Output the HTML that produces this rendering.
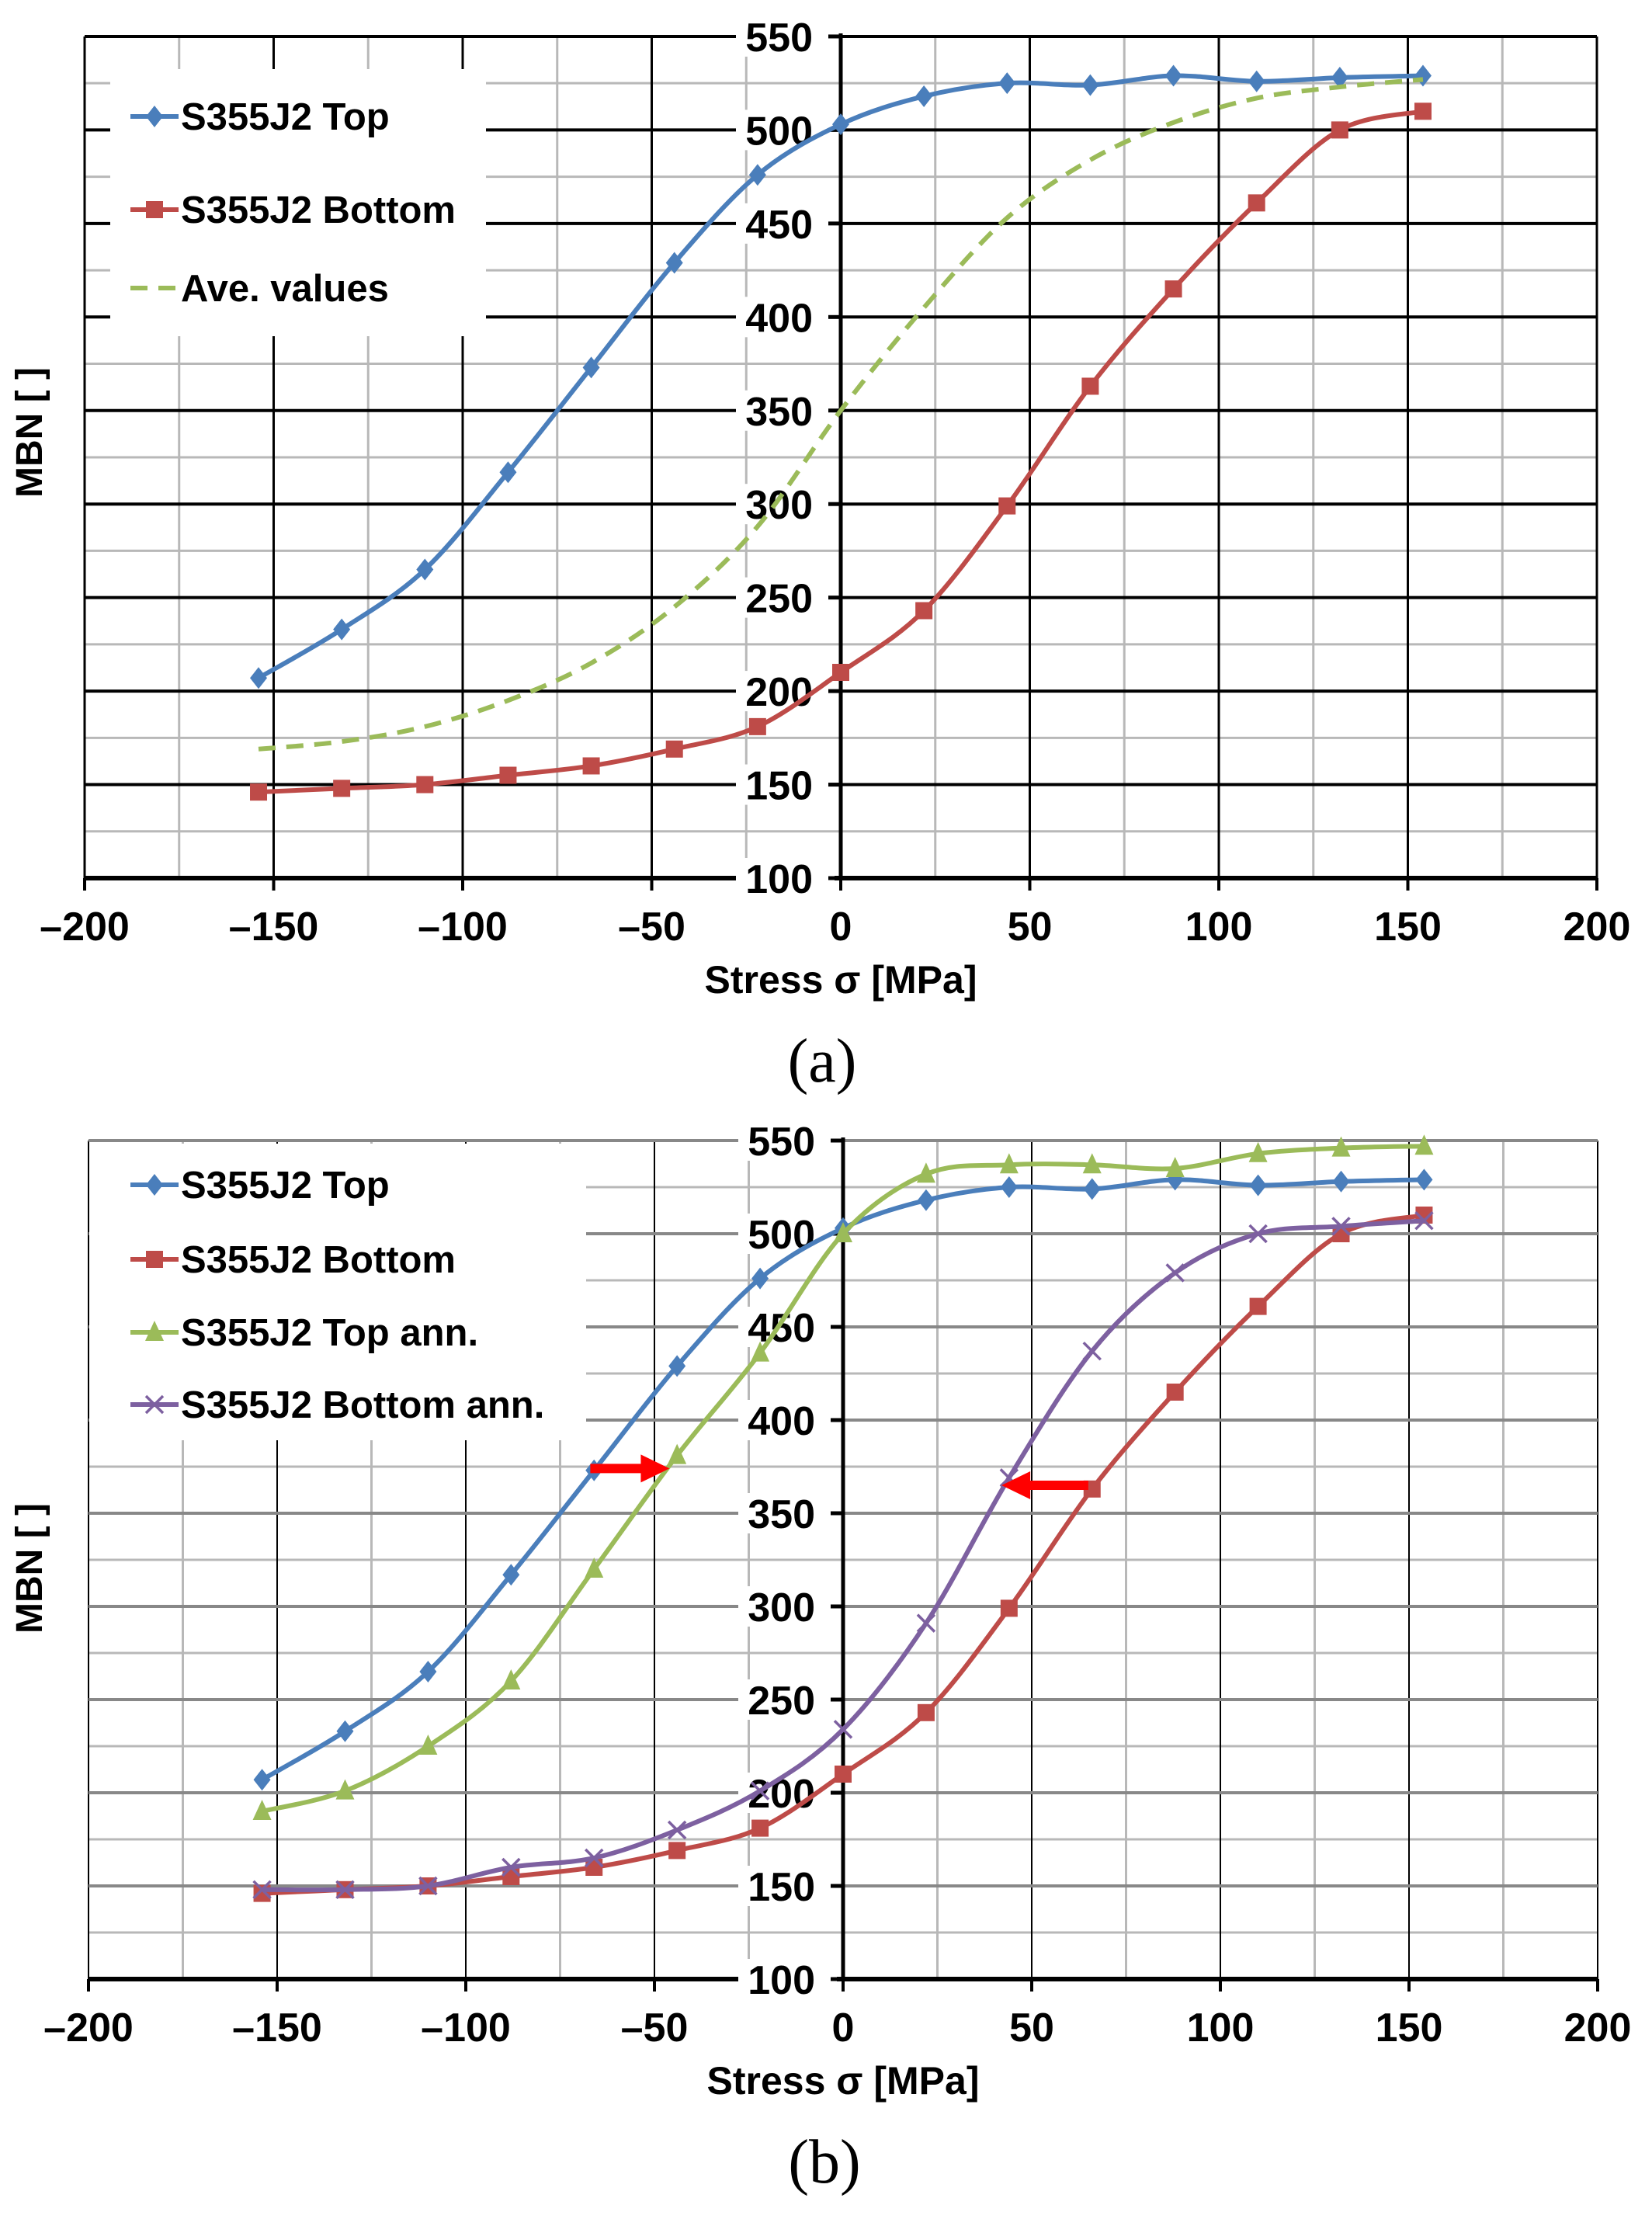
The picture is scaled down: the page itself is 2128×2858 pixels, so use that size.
<!DOCTYPE html>
<html><head><meta charset="utf-8"><style>
body{margin:0;background:#fff}
svg{display:block}
text{font-family:"Liberation Sans",Arial,sans-serif;font-weight:bold;fill:#000}
</style></head><body>
<svg id="chart" width="2128" height="2858" viewBox="0 0 2128 2858" xmlns="http://www.w3.org/2000/svg"></svg>
<script>
const stress = [-154,-132,-110,-88,-66,-44,-22,0,22,44,66,88,110,132,154];
const topVals = [207,233,265,317,373,429,476,503,518,525,524,529,526,528,529];
const bottomVals = [146,148,150,155,160,169,181,210,243,299,363,415,461,500,510];
const aveVals = [169,173,181,195,215,245,288,350,405,453,484,504,517,523,527];
const topAnnVals = [190,201,225,260,320,381,436,500,532,537,537,535,543,546,547];
const bottomAnnVals = [148,148,150,160,165,180,201,234,291,369,437,479,500,504,507];
const xTicks = [-200,-150,-100,-50,0,50,100,150,200];
const xTickLabels = ['\u2013200','\u2013150','\u2013100','\u201350','0','50','100','150','200'];
const yTicks = [100,150,200,250,300,350,400,450,500,550];
const arrowRight = [-67,-46,374];
const arrowLeft = [65,42,365];

const NS='http://www.w3.org/2000/svg';
const svg=document.getElementById('chart');
function el(tag,attrs,parent){const e=document.createElementNS(NS,tag);for(const k in attrs)e.setAttribute(k,attrs[k]);(parent||svg).appendChild(e);return e;}

function smoothPath(pts){
  let d='M'+pts[0][0]+','+pts[0][1];
  for(let i=0;i<pts.length-1;i++){
    const p0=pts[Math.max(i-1,0)],p1=pts[i],p2=pts[i+1],p3=pts[Math.min(i+2,pts.length-1)];
    const t=1/6;
    const c1=[p1[0]+(p2[0]-p0[0])*t,p1[1]+(p2[1]-p0[1])*t];
    const c2=[p2[0]-(p3[0]-p1[0])*t,p2[1]-(p3[1]-p1[1])*t];
    d+=' C'+c1[0]+','+c1[1]+' '+c2[0]+','+c2[1]+' '+p2[0]+','+p2[1];
  }
  return d;
}

function panel(cfg){
  const g=el('g',{});
  
  
  const X=v=>cfg.x0+v*cfg.kx;
  const Y=v=>cfg.yb-(v-100)*cfg.ky;
  const top=Y(550),bot=Y(100),left=X(-200),right=X(200);
  for(let v=-175;v<200;v+=50){const l=el('line',{x1:X(v),x2:X(v),y1:top,y2:bot,stroke:'#b8b8b8','stroke-width':3},g);}
  for(let v=125;v<550;v+=50){const l=el('line',{x1:left,x2:right,y1:Y(v),y2:Y(v),stroke:'#b8b8b8','stroke-width':3},g);}
  xTicks.forEach(v=>{const l=el('line',{x1:X(v),x2:X(v),y1:top,y2:bot,stroke:'#000','stroke-width':cfg.vmajorW},g);});
  yTicks.forEach(v=>{const l=el('line',{x1:left,x2:right,y1:Y(v),y2:Y(v),stroke:cfg.hmajor,'stroke-width':4},g);});
  const lb=el('rect',{x:cfg.leg[0],y:cfg.leg[1],width:cfg.leg[2],height:cfg.leg[3],fill:'#fff'},g);
  
  const xa=el('line',{x1:left,x2:right,y1:bot,y2:bot,stroke:'#000','stroke-width':6},g);
  
  const ya=el('line',{x1:X(0),x2:X(0),y1:top-4,y2:bot,stroke:'#000','stroke-width':5},g);
  
  xTicks.forEach((v,i)=>{
    el('line',{x1:X(v),x2:X(v),y1:bot,y2:bot+16,stroke:'#000','stroke-width':4},g);
    const t=el('text',{x:X(v),y:cfg.yb+80,'text-anchor':'middle','font-size':52},g);
    t.textContent=xTickLabels[i];
    
  });
  yTicks.forEach(v=>{
    el('rect',{x:X(0)-135,y:Y(v)-26,width:127,height:52,fill:'#fff'},g);
    el('line',{x1:X(0)-16,x2:X(0),y1:Y(v),y2:Y(v),stroke:'#000','stroke-width':5},g);
    const t=el('text',{x:X(0)-36,y:Y(v)+19,'text-anchor':'end','font-size':52},g);
    t.textContent=String(v);
    
  });
  const xt=el('text',{x:X(0),y:cfg.yb+148,'text-anchor':'middle','font-size':50},g);
  xt.textContent='Stress \u03c3 [MPa]';
  
  const yt=el('text',{x:0,y:0,'text-anchor':'middle','font-size':48,transform:'translate(54,'+cfg.ytY+') rotate(-90)'},g);
  yt.textContent='MBN [ ]';
  
  const cap=el('text',{x:X(0)-24,y:cfg.yb+262,'text-anchor':'middle','font-size':80,style:'font-family:"Liberation Serif",serif;font-weight:normal'},g);
  cap.textContent=cfg.caption;
  

  function marker(type,cx,cy,color,parent){
    let m;
    if(type==='diamond')m=el('polygon',{points:`${cx},${cy-14} ${cx+11},${cy} ${cx},${cy+14} ${cx-11},${cy}`,fill:color},parent);
    else if(type==='square')m=el('rect',{x:cx-11,y:cy-11,width:22,height:22,fill:color},parent);
    else if(type==='triangle')m=el('polygon',{points:`${cx},${cy-15} ${cx+12},${cy+11} ${cx-12},${cy+11}`,fill:color},parent);
    else {m=el('path',{d:`M${cx-11},${cy-11}L${cx+11},${cy+11}M${cx+11},${cy-11}L${cx-11},${cy+11}`,stroke:color,'stroke-width':3.5,fill:'none'},parent);}
    return m;
  }
  cfg.series.forEach((s,si)=>{
    const sg=el('g',{},g);
    
    
    const pts=stress.map((x,i)=>[X(x),Y(s.vals[i])]);
    const p=el('path',{d:smoothPath(pts),fill:'none',stroke:s.color,'stroke-width':6,'stroke-dasharray':s.dash||'none'},sg);
    
    if(s.marker)pts.forEach(q=>{const m=marker(s.marker,q[0],q[1],s.color,sg);});
    const ly=cfg.legY[si];
    const le=el('g',{},g);
    
    
    const lx=cfg.legX;
    el('line',{x1:lx,x2:lx+62,y1:ly,y2:ly,stroke:s.color,'stroke-width':6,'stroke-dasharray':s.dash?'22,14':'none'},le);
    if(s.marker)marker(s.marker,lx+31,ly,s.color,le);
    const lt=el('text',{x:lx+65,y:ly+17,'font-size':49},le);
    lt.textContent=s.label;
  });
  (cfg.arrows||[]).forEach(a=>{
    const x1=X(a[0]),x2=X(a[1]),y=Y(a[2]);
    const dir=Math.sign(x2-x1);
    const hx=x2-dir*37;
    const ar=el('polygon',{points:`${x1},${y-6} ${hx},${y-6} ${hx},${y-18} ${x2},${y} ${hx},${y+18} ${hx},${y+6} ${x1},${y+6}`,fill:'#ff0000'},g);
    
  });
}

panel({name:'panel-a',caption:'(a)',x0:1083,kx:4.87,yb:1131,ky:2.409,hmajor:'#000',vmajorW:3,
  leg:[142,89,484,344],legX:168,legY:[150,270,371],ytY:557,
  series:[
    {name:'series-top',label:'S355J2 Top',vals:topVals,color:'#4a7ebb',marker:'diamond'},
    {name:'series-bottom',label:'S355J2 Bottom',vals:bottomVals,color:'#be4b48',marker:'square'},
    {name:'series-average',label:'Ave. values',vals:aveVals,color:'#9bbb59',dash:'22,14'}
  ]});
panel({name:'panel-b',caption:'(b)',x0:1086,kx:4.86,yb:2549,ky:2.4,hmajor:'#888',vmajorW:2,
  leg:[115,1473,640,382],legX:168,legY:[1526,1622,1716,1809],ytY:2020,
  series:[
    {name:'series-top',label:'S355J2 Top',vals:topVals,color:'#4a7ebb',marker:'diamond'},
    {name:'series-bottom',label:'S355J2 Bottom',vals:bottomVals,color:'#be4b48',marker:'square'},
    {name:'series-top-annealed',label:'S355J2 Top ann.',vals:topAnnVals,color:'#9bbb59',marker:'triangle'},
    {name:'series-bottom-annealed',label:'S355J2 Bottom ann.',vals:bottomAnnVals,color:'#7d60a0',marker:'x'}
  ],arrows:[arrowRight,arrowLeft]});
</script>
</body></html>
